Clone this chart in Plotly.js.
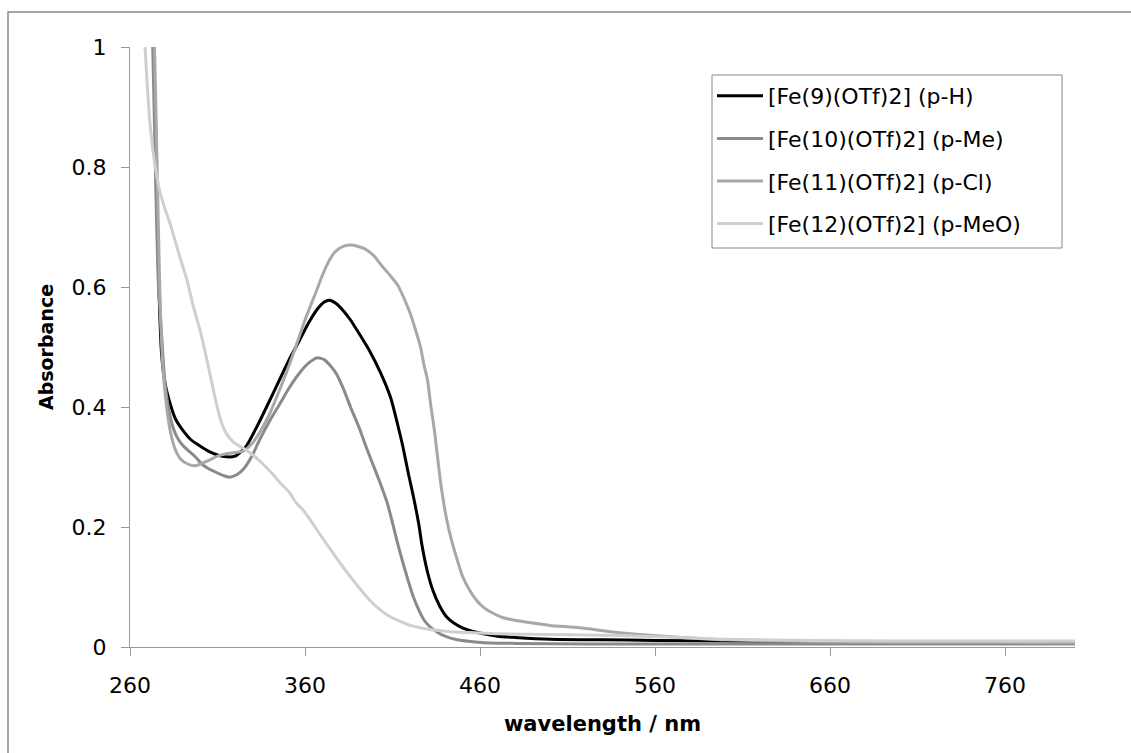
<!DOCTYPE html>
<html>
<head>
<meta charset="utf-8">
<script src="https://cdn.plot.ly/plotly-3.0.1.min.js"></script>
<style>html,body{margin:0;padding:0;background:#fff;}#chart{width:1131px;height:753px;}</style>
</head>
<body>
<div id="chart"></div>
<script>
// Series names
const seriesNames = ["[Fe(9)(OTf)2] (p-H)", "[Fe(10)(OTf)2] (p-Me)", "[Fe(11)(OTf)2] (p-Cl)", "[Fe(12)(OTf)2] (p-MeO)"];

// p-H
const wlH = [272,273.5,275,276.5,278,280,283,286,290,295,300,305,310,315,320,326,333,340,347,352,357,362,367,371,374,378,382,386,391,397,403,409,413,416,419,422,425,427,430,433,437,441,445,450,456,462,470,480,500,530,560,600,650,700,750,800];
const absH = [1.15,1.0,0.8,0.6,0.49,0.44,0.405,0.38,0.362,0.345,0.335,0.326,0.32,0.317,0.318,0.333,0.37,0.412,0.455,0.485,0.512,0.54,0.563,0.575,0.578,0.572,0.56,0.545,0.522,0.493,0.458,0.415,0.37,0.333,0.29,0.25,0.205,0.167,0.125,0.095,0.068,0.05,0.04,0.032,0.026,0.022,0.018,0.016,0.013,0.012,0.011,0.010,0.009,0.008,0.008,0.007];

// p-Me
const wlMe = [271.5,273,274.5,276,278,280,283,286,289,293,297,301,305,310,314,317,321,325,330,334,340,346,351,357,362,367,371,375,378,382,386,391,395,399,403,407,410,413,416,419,422,425,428,431,435,440,447,455,462,480,520,600,700,800];
const absMe = [1.15,1.0,0.8,0.62,0.523,0.44,0.383,0.355,0.34,0.328,0.318,0.305,0.297,0.29,0.285,0.283,0.287,0.297,0.32,0.345,0.378,0.407,0.432,0.457,0.473,0.482,0.479,0.467,0.455,0.43,0.40,0.365,0.333,0.303,0.273,0.24,0.207,0.172,0.14,0.11,0.083,0.062,0.045,0.035,0.026,0.018,0.012,0.009,0.007,0.006,0.005,0.005,0.005,0.005];

// p-Cl
const wlCl = [272,274,275.5,277,278.5,280,283,286,289,293,297,301,305,310,315,320,325,330,335,340,345,350,355,360,364,367,370,374,377,380,383,386,390,394,399,404,409,413,416,420,423,426,428,430,432,434,437,439,441,444,447,450,454,458,462,467,472,479,490,500,517,536,555,575,600,650,700,750,800];
const absCl = [1.15,1.0,0.8,0.6,0.48,0.425,0.36,0.328,0.313,0.305,0.302,0.306,0.311,0.318,0.322,0.324,0.327,0.34,0.362,0.39,0.425,0.462,0.503,0.545,0.575,0.597,0.62,0.645,0.658,0.665,0.669,0.67,0.668,0.664,0.653,0.635,0.618,0.603,0.585,0.557,0.53,0.50,0.47,0.445,0.40,0.36,0.285,0.245,0.212,0.175,0.145,0.118,0.095,0.078,0.066,0.057,0.05,0.045,0.04,0.036,0.032,0.025,0.02,0.016,0.012,0.009,0.008,0.008,0.007];

// p-MeO
const wlMeO = [267.5,268.6,270,271.5,273,275,277,280,283,286,289,292.5,296,300,304,307.5,310,312.5,315,319,323,327,331,336,341,346,351,355,359,363,368,374,380,386,392,397,403,409,415,420,428,435,445,455,470,500,540,575,600,650,700,750,800];
const absMeO = [1.1,1.0,0.93,0.87,0.83,0.79,0.76,0.73,0.705,0.675,0.645,0.612,0.57,0.528,0.478,0.43,0.398,0.372,0.356,0.342,0.334,0.327,0.318,0.305,0.29,0.273,0.258,0.24,0.228,0.212,0.19,0.165,0.14,0.117,0.095,0.078,0.062,0.05,0.042,0.036,0.031,0.028,0.025,0.024,0.022,0.021,0.019,0.016,0.013,0.011,0.010,0.010,0.010];

const xTicks = [260,360,460,560,660,760];
const yTicks = [0,0.2,0.4,0.6,0.8,1];
const yTickText = ["0","0.2","0.4","0.6","0.8","1"];

const xs = [wlH, wlMe, wlCl, wlMeO];
const ys = [absH, absMe, absCl, absMeO];
const colors = ["#000000", "#8a8a8a", "#a8a8a8", "#cfcfcf"];

const traces = seriesNames.map((n, i) => ({
  type: "scatter", mode: "lines", name: n, x: xs[i], y: ys[i],
  legendgroup: "g" + i,
  line: {color: colors[i], width: 3, shape: "spline", smoothing: 0.6},
  cliponaxis: true
}));

const W = 1131, H = 753, L = 130, R = 56, T = 47, B = 106;
const pw = W - L - R, ph = H - T - B;
const px = v => (v - L) / pw;
const py = v => (H - B - v) / ph;

const layout = {
  width: W, height: H,
  margin: {l: L, r: R, t: T, b: B, pad: 0},
  paper_bgcolor: "#ffffff", plot_bgcolor: "#ffffff",
  font: {family: "DejaVu Sans, Verdana, sans-serif", size: 22, color: "#000"},
  showlegend: true,
  legend: {
    x: px(712), y: py(75), xanchor: "left", yanchor: "top",
    bgcolor: "rgba(0,0,0,0)", borderwidth: 0,
    font: {size: 22, color: "#000"},
    traceorder: "grouped", tracegroupgap: 11,
    itemwidth: 46
  },
  xaxis: {
    range: [260, 800], tickvals: xTicks, ticktext: xTicks.map(String),
    ticks: "outside", ticklen: 8, tickcolor: "#999", tickwidth: 1,
    showline: true, linecolor: "#999", linewidth: 1,
    showgrid: false, zeroline: false, ticklabelstandoff: 11,
    title: {text: "<b>wavelength / nm</b>", font: {size: 21}, standoff: 18}
  },
  yaxis: {
    range: [0, 1], tickvals: yTicks, ticktext: yTickText,
    ticks: "outside", ticklen: 8, tickcolor: "#999", tickwidth: 1,
    showline: true, linecolor: "#999", linewidth: 1,
    showgrid: false, zeroline: false, ticklabelstandoff: 10,
    title: {text: "<b>Absorbance</b>", font: {size: 19}, standoff: 12}
  },
  shapes: [{
    type: "rect", xref: "paper", yref: "paper",
    x0: px(8), x1: px(1145), y0: py(12), y1: py(770),
    line: {color: "#888888", width: 1.5}, fillcolor: "rgba(0,0,0,0)", layer: "below"
  }, {
    type: "rect", xref: "paper", yref: "paper",
    x0: px(712), x1: px(1062), y0: py(75), y1: py(248),
    line: {color: "#888888", width: 1}, fillcolor: "#ffffff", layer: "above"
  }]
};

Plotly.newPlot("chart", traces, layout, {displayModeBar: false, staticPlot: true});
</script>
</body>
</html>
